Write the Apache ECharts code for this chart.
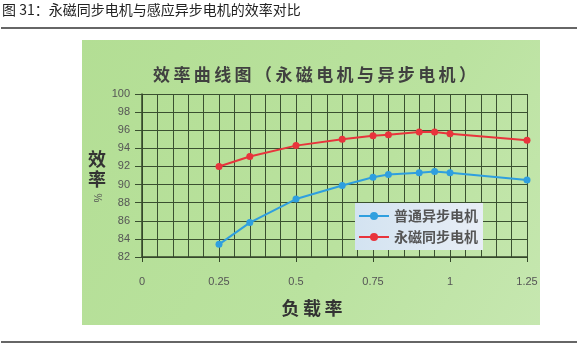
<!DOCTYPE html>
<html><head><meta charset="utf-8">
<script src="https://cdn.jsdelivr.net/npm/echarts@6/dist/echarts.min.js"></script>
<style>html,body{margin:0;padding:0;background:#fff}#c{width:578px;height:347px}</style>
</head><body><div id="c"></div>
<script>
const headerText = '图 31：永磁同步电机与感应异步电机的效率对比';
const chartTitle = '效率曲线图（永磁电机与异步电机）';
const seriesNames = ['普通异步电机', '永磁同步电机'];
const loadRate = [0.25, 0.35, 0.5, 0.65, 0.75, 0.8, 0.9, 0.95, 1.0, 1.25];
const asyncEff = [83.4, 85.8, 88.4, 89.9, 90.8, 91.1, 91.3, 91.45, 91.3, 90.5];
const pmEff = [92.0, 93.1, 94.3, 95.0, 95.4, 95.5, 95.8, 95.8, 95.6, 94.9];
const xName = '负载率';
const yName = '效率';

const cjk = '"Noto Sans CJK SC", "Noto Sans", sans-serif';
const num = '"Liberation Sans", Arial, sans-serif';
const spaced = s => s.split('').join('\u2009');

const chart = echarts.init(document.getElementById('c'), null, {renderer: 'canvas'});
chart.setOption({
  animation: false,
  backgroundColor: '#fff',
  graphic: [
    {type: 'rect', z: -10, shape: {x: 82, y: 40, width: 458, height: 285},
     style: {fill: new echarts.graphic.LinearGradient(0, 0, 1, 1, [
       {offset: 0, color: '#b3de94'}, {offset: 0.6, color: '#bae29f'}, {offset: 1, color: '#c6e7b0'}])}},
    {type: 'text', left: 2, top: 3, style: {text: headerText, font: '14px ' + cjk, fill: '#222'}},
    {type: 'line', shape: {x1: 1, y1: 28, x2: 577, y2: 28}, style: {stroke: '#333', lineWidth: 1.5}},
    {type: 'line', shape: {x1: 1, y1: 342, x2: 577, y2: 342}, style: {stroke: '#333', lineWidth: 1.5}},
    {type: 'text', x: 312, y: 308, style: {text: spaced(xName), font: 'bold 18px ' + cjk, fill: '#333', align: 'center', verticalAlign: 'middle'}},
    {type: 'text', x: 97, y: 169, style: {text: yName.split('').join('\n'), font: 'bold 18px ' + cjk, fill: '#333', align: 'center', verticalAlign: 'middle', lineHeight: 20}},
    {type: 'text', x: 97, y: 198, rotation: -Math.PI / 2, style: {text: '%', font: '10px ' + num, fill: '#555', align: 'center', verticalAlign: 'middle'}}
  ],
  title: {
    text: spaced(chartTitle), left: 148, top: 61,
    textStyle: {fontFamily: cjk, fontSize: 17, fontWeight: 'bold', color: '#404040'}
  },
  legend: {
    orient: 'vertical', left: 355, top: 203,
    padding: [6, 5, 6, 3], itemGap: 7, itemWidth: 30, itemHeight: 10,
    backgroundColor: new echarts.graphic.LinearGradient(0, 0, 1, 0, [
      {offset: 0, color: '#d3e3f1'}, {offset: 1, color: '#e8eef6'}]),
    textStyle: {fontFamily: cjk, fontSize: 14, fontWeight: 'bold', color: '#555'},
    data: seriesNames
  },
  grid: {left: 142, right: 51, top: 94, bottom: 90},
  xAxis: {
    type: 'value', min: 0, max: 1.25, interval: 0.25,
    axisLine: {show: true, lineStyle: {color: '#34462a', width: 1.5}},
    axisTick: {show: true, inside: false, length: 5, lineStyle: {color: '#34462a'}},
    minorTick: {show: false, splitNumber: 5},
    splitLine: {show: true, lineStyle: {color: '#3a5030', width: 1}},
    minorSplitLine: {show: true, lineStyle: {color: '#3a5030', width: 1}},
    axisLabel: {margin: 19, fontFamily: num, fontSize: 11, color: '#555'}
  },
  yAxis: {
    type: 'value', min: 82, max: 100, interval: 2,
    axisLine: {show: true, lineStyle: {color: '#34462a', width: 1.5}},
    axisTick: {show: true, inside: false, length: 7, lineStyle: {color: '#3a5030'}},
    splitLine: {show: true, lineStyle: {color: '#3a5030', width: 1}},
    axisLabel: {margin: 12, fontFamily: num, fontSize: 11, color: '#555'}
  },
  series: [
    {name: seriesNames[0], type: 'line', data: loadRate.map((x, i) => [x, asyncEff[i]]),
     color: '#2f9fdf', symbol: 'circle', symbolSize: 7, lineStyle: {width: 2}},
    {name: seriesNames[1], type: 'line', data: loadRate.map((x, i) => [x, pmEff[i]]),
     color: '#e8343c', symbol: 'circle', symbolSize: 7, lineStyle: {width: 2}}
  ]
});
</script></body></html>
